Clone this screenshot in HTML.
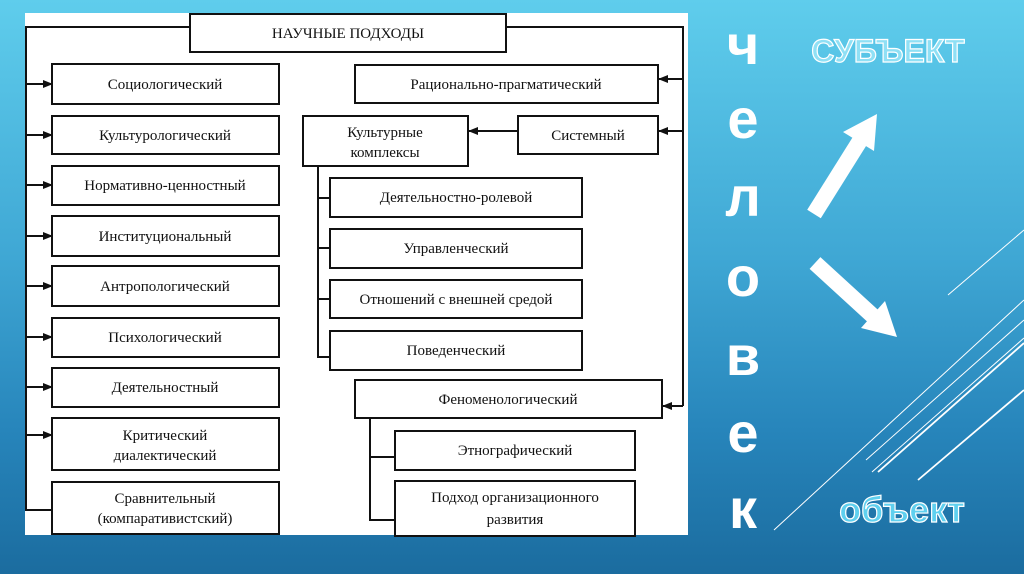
<!DOCTYPE html>
<html><head><meta charset="utf-8"><style>
html,body{margin:0;padding:0}
body{width:1024px;height:574px;overflow:hidden;background:linear-gradient(#5fcdec 0%,#3fa7d4 45%,#2785bb 75%,#1b6c9f 100%);position:relative;font-family:"Liberation Sans","DejaVu Sans",sans-serif}
svg{position:absolute;left:0;top:0}
</style></head><body>
<svg width="1024" height="574" viewBox="0 0 1024 574">
<defs><marker id="a" markerWidth="10" markerHeight="8" refX="9" refY="4" orient="auto" markerUnits="userSpaceOnUse"><path d="M0,0 L10,4 L0,8z" fill="#111"/></marker></defs>
<rect x="25" y="13" width="663" height="522" fill="#fff"/>
<g stroke="#111" stroke-width="2" fill="none">
<path d="M190,27 H26 V510 H52"/>
<path d="M506,27 H683 V406"/>
<path d="M26,84 H52" marker-end="url(#a)"/><path d="M26,135 H52" marker-end="url(#a)"/><path d="M26,185 H52" marker-end="url(#a)"/><path d="M26,236 H52" marker-end="url(#a)"/><path d="M26,286 H52" marker-end="url(#a)"/><path d="M26,337 H52" marker-end="url(#a)"/><path d="M26,387 H52" marker-end="url(#a)"/><path d="M26,435 H52" marker-end="url(#a)"/>
<path d="M683,79 H659" marker-end="url(#a)"/><path d="M683,131 H659" marker-end="url(#a)"/><path d="M683,406 H663" marker-end="url(#a)"/>
<path d="M518,131 H469" marker-end="url(#a)"/>
<path d="M318,166 V357 H330 M318,198 H330 M318,248 H330 M318,299 H330"/>
<path d="M370,418 V520 H395 M370,457 H395"/>
<rect x="190" y="14" width="316" height="38"/>
<rect x="52" y="64" width="227" height="40"/><rect x="52" y="116" width="227" height="38"/><rect x="52" y="166" width="227" height="39"/><rect x="52" y="216" width="227" height="40"/><rect x="52" y="266" width="227" height="40"/><rect x="52" y="318" width="227" height="39"/><rect x="52" y="368" width="227" height="39"/><rect x="52" y="418" width="227" height="52"/><rect x="52" y="482" width="227" height="52"/>
<rect x="355" y="65" width="303" height="38"/><rect x="303" y="116" width="165" height="50"/><rect x="518" y="116" width="140" height="38"/>
<rect x="330" y="178" width="252" height="39"/><rect x="330" y="229" width="252" height="39"/><rect x="330" y="280" width="252" height="38"/><rect x="330" y="331" width="252" height="39"/>
<rect x="355" y="380" width="307" height="38"/><rect x="395" y="431" width="240" height="39"/><rect x="395" y="481" width="240" height="55"/>
</g>
<g font-family="Liberation Serif,serif" font-size="15" fill="#111" text-anchor="middle">
<text x="348" y="38">НАУЧНЫЕ ПОДХОДЫ</text>
<text x="165" y="89">Социологический</text><text x="165" y="140">Культурологический</text><text x="165" y="190">Нормативно-ценностный</text><text x="165" y="241">Институциональный</text><text x="165" y="291">Антропологический</text><text x="165" y="342">Психологический</text><text x="165" y="392">Деятельностный</text>
<text x="165" y="440">Критический</text><text x="165" y="460">диалектический</text><text x="165" y="503">Сравнительный</text><text x="165" y="523">(компаративистский)</text>
<text x="506" y="89">Рационально-прагматический</text><text x="385" y="137">Культурные</text><text x="385" y="157">комплексы</text><text x="588" y="140">Системный</text>
<text x="456" y="202">Деятельностно-ролевой</text><text x="456" y="253">Управленческий</text><text x="456" y="304">Отношений с внешней средой</text><text x="456" y="355">Поведенческий</text>
<text x="508" y="404">Феноменологический</text><text x="515" y="455">Этнографический</text><text x="515" y="502">Подход организационного</text><text x="515" y="524">развития</text>
</g>
<g font-family="Liberation Sans,sans-serif" font-weight="bold" font-size="56" fill="#fff" text-anchor="middle">
<text x="743" y="64">ч</text><text x="743" y="138">е</text><text x="743" y="216">л</text><text x="743" y="296">о</text><text x="743" y="375">в</text><text x="743" y="452">е</text><text x="743" y="528">к</text>
</g>
<text x="888" y="62" font-family="Liberation Sans,sans-serif" font-weight="bold" font-size="32" fill="#8fe0f5" stroke="#fff" stroke-width="1.2" text-anchor="middle">СУБЪЕКТ</text>
<text x="902" y="522" font-family="Liberation Sans,sans-serif" font-weight="bold" font-size="36" fill="#5fd0ef" stroke="#fff" stroke-width="1.2" text-anchor="middle">объект</text>
<g fill="#fff" stroke="#fff">
<path d="M814,214 L861,139" stroke-width="16"/>
<polygon points="877,114 874,151 843,132" stroke="none"/>
<path d="M815,263 L874,317" stroke-width="16"/>
<polygon points="897,337 885,301 861,328" stroke="none"/>
</g>
<g stroke="#fff" fill="none">
<path d="M948,295 L1024,230" stroke-width="1"/>
<path d="M878,472 L1024,343" stroke-width="1.8"/>
<path d="M872,472 L1024,338" stroke-width="1"/>
<path d="M866,460 L1024,320" stroke-width="1"/>
<path d="M918,480 L1024,390" stroke-width="1.8"/>
<path d="M774,530 L1024,300" stroke-width="1"/>
</g>
</svg>
</body></html>
